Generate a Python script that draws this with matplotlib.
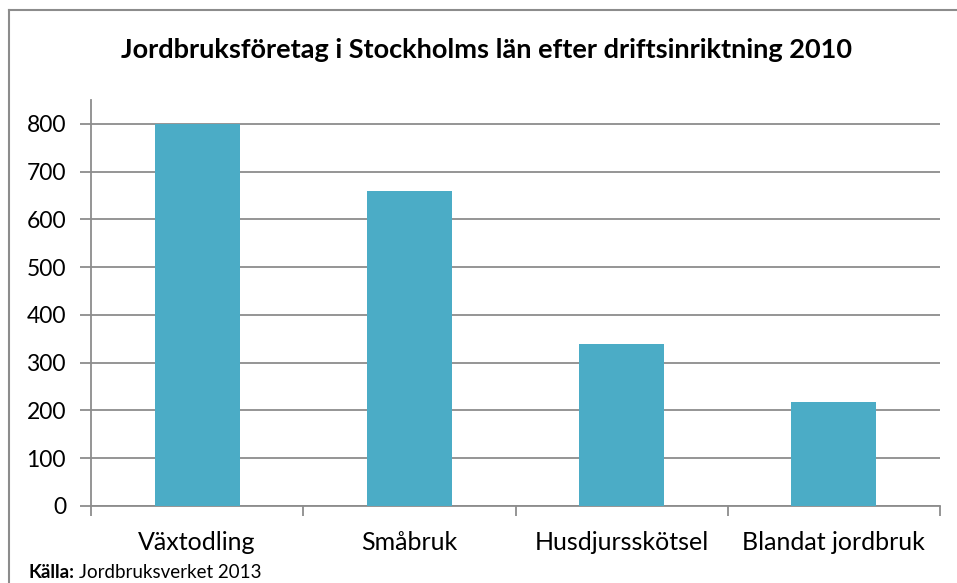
import matplotlib.pyplot as plt
from matplotlib.lines import Line2D

# data
categories = ["Växtodling", "Småbruk", "Husdjursskötsel", "Blandat jordbruk"]
values = [800, 660, 340, 218]
yticks = [0, 100, 200, 300, 400, 500, 600, 700, 800]

W, H = 957, 583
plt.rcParams['font.family'] = ['Lato', 'DejaVu Sans']

fig = plt.figure(figsize=(W / 100, H / 100), dpi=100)
ax = fig.add_axes([91 / W, (H - 506) / H, (940 - 91) / W, (506 - 100) / H])

bar_color = '#4BACC6'
grid_color = '#8C8C8C'

x = list(range(len(categories)))
ax.bar(x, values, width=0.4, color=bar_color, zorder=3)

ax.set_xlim(-0.5, len(categories) - 0.5)
ax.set_ylim(0, 850)
ax.set_yticks(yticks)
ax.set_yticklabels([str(v) for v in yticks], fontsize=16.5)
ax.yaxis.grid(True, color=grid_color, linewidth=1.3, zorder=0)

# category ticks at the boundaries, labels centred
ax.set_xticks([i - 0.5 for i in range(len(categories) + 1)])
ax.set_xticklabels([])
ax.set_xticks(x, minor=True)
ax.set_xticklabels(categories, minor=True, fontsize=18)
ax.tick_params(axis='x', which='minor', length=0, pad=18)
ax.tick_params(axis='x', which='major', length=7, width=1.3, color=grid_color, direction='out')
ax.tick_params(axis='y', length=8, width=1.3, color=grid_color, direction='out', pad=10)

for side in ['top', 'right']:
    ax.spines[side].set_visible(False)
for side in ['left', 'bottom']:
    ax.spines[side].set_color(grid_color)
    ax.spines[side].set_linewidth(1.3)

# chart frame (left and top edges visible)
fig.add_artist(Line2D([8.5 / W, 8.5 / W], [0, 1 - 10 / H], transform=fig.transFigure,
                      color='#8C8C8C', linewidth=1.5))
fig.add_artist(Line2D([8.5 / W, 1], [1 - 10 / H, 1 - 10 / H], transform=fig.transFigure,
                      color='#8C8C8C', linewidth=1.5))

fig.text(487 / W, 1 - 50 / H, "Jordbruksföretag i Stockholms län efter driftsinriktning 2010",
         ha='center', va='center', fontsize=19.5, fontweight='bold')

t = fig.text(29 / W, 1 - 572 / H, "Källa:", ha='left', va='center', fontsize=13.5, fontweight='bold')
fig.canvas.draw()
bb = t.get_window_extent()
fig.text(bb.x1 / W + 4 / W, 1 - 572 / H, "Jordbruksverket 2013", ha='left', va='center', fontsize=13.5)

fig.savefig('out.png', dpi=100)
